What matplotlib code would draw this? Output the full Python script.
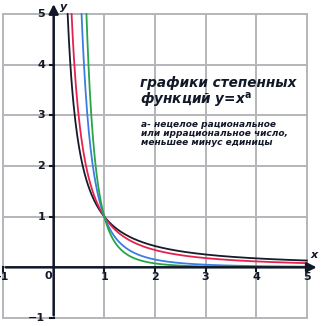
import numpy as np
import matplotlib.pyplot as plt

# показатели степени (все меньше -1)
exponents = [-1.25, -1.55, -2.7, -3.7]
colors = ['#161a2a', '#e6224c', '#3b7de2', '#27a548']
ticks = [-1, 0, 1, 2, 3, 4, 5]

fig = plt.figure(figsize=(3.22, 3.26), dpi=100)
ax = fig.add_axes([0, 0, 1, 1])
ax.set_xlim(-1.06, 5.3)
ax.set_ylim(-1.158, 5.276)
ax.axis('off')

# сетка
grid_c = '#b4b6ba'
for t in ticks:
    ax.plot([t, t], [-1, 5], color=grid_c, lw=1.4, zorder=1)
    ax.plot([-1, 5], [t, t], color=grid_c, lw=1.4, zorder=1)

# оси со стрелками
ax.annotate('', xy=(5.25, 0), xytext=(-1, 0),
            arrowprops=dict(arrowstyle='-|>', color='#111827', lw=1.8,
                            mutation_scale=14), zorder=5)
ax.annotate('', xy=(0, 5.25), xytext=(0, -1),
            arrowprops=dict(arrowstyle='-|>', color='#111827', lw=1.8,
                            mutation_scale=14), zorder=5)

# засечки и подписи
for t in ticks:
    if t != 0:
        ax.plot([t, t], [0, -0.08], color='#111827', lw=1.5, zorder=5)
        ax.plot([0, -0.08], [t, t], color='#111827', lw=1.5, zorder=5)
for t in [-1, 1, 2, 3, 4, 5]:
    ax.text(t, -0.19, str(t), ha='center', va='center',
            fontsize=8, fontweight='bold', color='#111827', zorder=6)
    ax.text(-0.17, t, str(t).replace('-', '−'), ha='right', va='center',
            fontsize=8, fontweight='bold', color='#111827', zorder=6)
ax.text(-0.1, -0.17, '0', ha='center', va='center', fontsize=8,
        fontweight='bold', color='#111827')
ax.text(0.2, 5.14, 'y', ha='center', va='center', fontsize=8,
        fontweight='bold', style='italic', color='#111827')
ax.text(5.15, 0.24, 'x', ha='center', va='center', fontsize=8,
        fontweight='bold', style='italic', color='#111827')

# графики y = x^a
for a, c in zip(exponents, colors):
    x = np.linspace(5 ** (1 / a), 5, 400)
    ax.plot(x, x ** a, color=c, lw=1.3, zorder=4)

ax.text(1.7, 3.78, 'графики степенных\nфункций y=x$^\\mathbf{a}$',
        ha='left', va='top', fontsize=9.8, fontweight='bold', style='italic',
        color='#111827', linespacing=1.1)
ax.text(1.72, 2.9, 'а- нецелое рациональное\nили иррациональное число,\n'
        'меньшее минус единицы', ha='left', va='top', fontsize=6.5,
        fontweight='bold', style='italic', color='#111827', linespacing=1.0)

fig.savefig('out.png', dpi=100)
